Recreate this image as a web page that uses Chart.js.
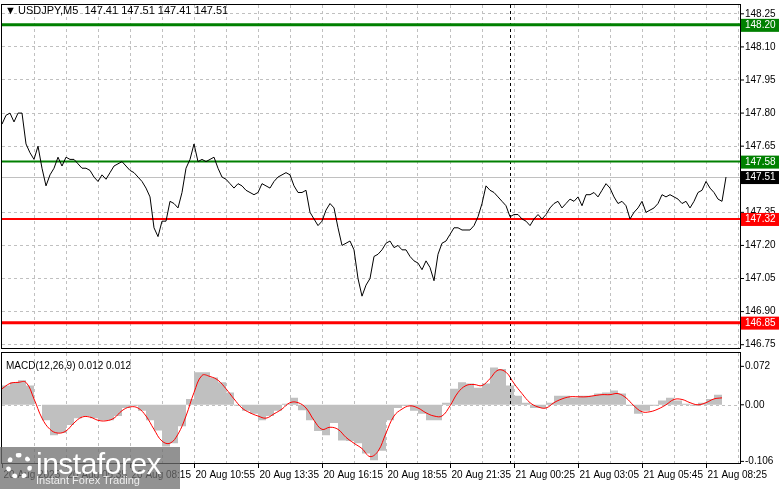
<!DOCTYPE html>
<html>
<head>
<meta charset="utf-8">
<script src="https://cdn.jsdelivr.net/npm/chart.js@4"></script>
<style>
  body { margin: 0; background: #fff; width: 781px; height: 489px; overflow: hidden; font-family: "Liberation Sans", Arial, sans-serif; }
  #main { position: absolute; left: 0; top: 0; }
  #macd { position: absolute; left: 0; top: 349px; }
  .logo { position: absolute; left: 0; top: 447px; width: 180px; height: 42px; background: rgba(110,110,110,0.75); color: #fff; }
  .logo .big { position: absolute; left: 36px; top: 0px; font-size: 30px; letter-spacing: -0.5px; }
  .logo .small { position: absolute; left: 36px; top: 27px; font-size: 11px; color: #eee; }
  .logo .gear { position: absolute; left: 6px; top: 6px; width: 26px; height: 26px; border-radius: 50%; border: 5px dotted #fff; box-sizing: border-box; }
</style>
</head>
<body>
<canvas id="main" width="781" height="350"></canvas>
<canvas id="macd" width="781" height="140"></canvas>
<div class="logo"><div class="gear"></div><div class="big">instaforex</div><div class="small">Instant Forex Trading</div></div>
<script>
// 価格 (M5, 4px おき)
const price = [
  147.75, 147.79, 147.80, 147.76, 147.80, 147.80, 147.66, 147.62, 147.59, 147.65,
  147.55, 147.47, 147.52, 147.55, 147.60, 147.56, 147.60, 147.59, 147.59, 147.57,
  147.55, 147.55, 147.54, 147.51, 147.49, 147.52, 147.50, 147.53, 147.56, 147.57,
  147.58, 147.56, 147.54, 147.53, 147.51, 147.49, 147.46, 147.42, 147.28, 147.24,
  147.31, 147.31, 147.40, 147.39, 147.37, 147.44, 147.55, 147.59, 147.66, 147.58,
  147.59, 147.58, 147.59, 147.60, 147.55, 147.51, 147.50, 147.48, 147.46, 147.48,
  147.47, 147.45, 147.44, 147.43, 147.44, 147.48, 147.47, 147.46, 147.49, 147.51,
  147.52, 147.53, 147.52, 147.47, 147.44, 147.44, 147.45, 147.35, 147.32, 147.29,
  147.31, 147.36, 147.39, 147.37, 147.28, 147.20, 147.21, 147.22, 147.18, 147.05,
  146.97, 147.02, 147.05, 147.15, 147.16, 147.18, 147.21, 147.22, 147.19, 147.20,
  147.18, 147.18, 147.15, 147.13, 147.12, 147.09, 147.13, 147.10, 147.04, 147.16,
  147.21, 147.22, 147.25, 147.28, 147.28, 147.27, 147.27, 147.27, 147.29, 147.33,
  147.39, 147.47, 147.45, 147.44, 147.42, 147.40, 147.38, 147.33, 147.34, 147.34,
  147.32, 147.31, 147.29, 147.32, 147.34, 147.32, 147.34, 147.37, 147.39, 147.40,
  147.37, 147.39, 147.41, 147.40, 147.42, 147.38, 147.43, 147.43, 147.44, 147.42,
  147.45, 147.48, 147.46, 147.42, 147.39, 147.40, 147.38, 147.32, 147.35, 147.37,
  147.40, 147.35, 147.36, 147.37, 147.39, 147.43, 147.42, 147.43, 147.42, 147.41,
  147.39, 147.40, 147.37, 147.40, 147.44, 147.45, 147.49, 147.46, 147.44, 147.41,
  147.40, 147.51
];
// MACD ヒストグラム (8px おき)
const macdHist = [
  0.036, 0.042, 0.046, 0.036, 0.000, -0.029, -0.057, -0.053, -0.038, -0.025,
  -0.021, -0.025, -0.029, -0.029, -0.021, -0.006, -0.002, -0.011, -0.029, -0.048,
  -0.078, -0.072, -0.040, 0.011, 0.061, 0.061, 0.051, 0.042, 0.023, -0.002,
  -0.011, -0.017, -0.029, -0.021, -0.011, 0.002, 0.013, -0.010, -0.029, -0.049,
  -0.057, -0.034, -0.067, -0.068, -0.072, -0.091, -0.104, -0.086, -0.029, -0.006,
  -0.002, -0.011, -0.017, -0.029, -0.029, 0.004, 0.030, 0.042, 0.040, 0.032,
  0.040, 0.070, 0.067, 0.036, 0.017, 0.004, -0.006, -0.006, 0.004, 0.017,
  0.017, 0.013, 0.017, 0.017, 0.021, 0.023, 0.027, 0.021, -0.002, -0.017,
  -0.011, -0.002, 0.008, 0.013, 0.008, 0.002, -0.002, 0.004, 0.011, 0.019,
  0.013
];
// MACD シグナル
const macdSignal = [
  0.030, 0.040, 0.042, 0.042, 0.011, -0.025, -0.046, -0.053, -0.049, -0.034,
  -0.023, -0.023, -0.029, -0.030, -0.025, -0.011, -0.004, -0.006, -0.021, -0.046,
  -0.068, -0.072, -0.055, -0.021, 0.023, 0.055, 0.053, 0.046, 0.030, 0.011,
  -0.006, -0.015, -0.021, -0.025, -0.017, -0.008, 0.004, 0.004, -0.006, -0.029,
  -0.046, -0.042, -0.046, -0.061, -0.072, -0.082, -0.097, -0.087, -0.053, -0.021,
  -0.008, -0.002, -0.006, -0.015, -0.021, -0.021, -0.002, 0.023, 0.036, 0.038,
  0.036, 0.049, 0.065, 0.061, 0.040, 0.021, 0.004, -0.004, -0.006, 0.004,
  0.011, 0.015, 0.015, 0.015, 0.017, 0.019, 0.019, 0.021, 0.013, -0.002,
  -0.013, -0.013, -0.008, 0.000, 0.010, 0.010, 0.004, 0.000, 0.004, 0.011,
  0.013
];
const priceTicks = [148.25, 148.10, 147.95, 147.80, 147.65, 147.35, 147.20, 147.05, 146.90, 146.75];
const timeLabels = ['20 Aug 2025', '20 Aug 05:35', '20 Aug 08:15', '20 Aug 10:55', '20 Aug 13:35', '20 Aug 16:15',
  '20 Aug 18:55', '20 Aug 21:35', '21 Aug 00:25', '21 Aug 03:05', '21 Aug 05:45', '21 Aug 08:25'];
const levels = [
  { value: 148.20, color: '#008000', width: 3 },
  { value: 147.58, color: '#008000', width: 2 },
  { value: 147.32, color: '#ff0000', width: 2 },
  { value: 146.85, color: '#ff0000', width: 3 }
];
const lastPrice = 147.51;
const sessionIndex = 127;   // 縦の点線
const macdTicks = [0.072, 0.00, -0.106];

const FONT = '10px "Liberation Sans", Arial';
const X_MAX = 184.5;
const gridStyle = { color: '#c0c0c0', drawTicks: false, lineWidth: 1 };
const dashBorder = { display: false, dash: [3, 3] };
const xTicks = s => { s.ticks = []; for (let i = 8; i < X_MAX; i += 8) s.ticks.push({ value: i }); };

// 枠・ラベル・水平線を描くプラグイン
const mainDecor = {
  id: 'mainDecor',
  beforeDatasetsDraw(chart) {
    const { ctx, chartArea: a, scales: { x, y } } = chart;
    ctx.save();
    ctx.strokeStyle = '#c0c0c0'; ctx.lineWidth = 1;
    const py = Math.round(y.getPixelForValue(lastPrice)) + 0.5;
    ctx.beginPath(); ctx.moveTo(a.left, py); ctx.lineTo(a.right, py); ctx.stroke();
    ctx.strokeStyle = '#000'; ctx.setLineDash([3, 3]);
    const sx = Math.round(x.getPixelForValue(sessionIndex)) + 0.5;
    ctx.beginPath(); ctx.moveTo(sx, a.top); ctx.lineTo(sx, a.bottom); ctx.stroke();
    ctx.setLineDash([]);
    levels.forEach(l => {
      ctx.strokeStyle = l.color; ctx.lineWidth = l.width;
      const ly = y.getPixelForValue(l.value);
      ctx.beginPath(); ctx.moveTo(a.left, ly); ctx.lineTo(a.right, ly); ctx.stroke();
    });
    ctx.restore();
  },
  afterDraw(chart) {
    const { ctx, chartArea: a, scales: { y } } = chart;
    ctx.save();
    ctx.strokeStyle = '#000'; ctx.lineWidth = 1;
    ctx.strokeRect(a.left - 0.5, a.top - 0.5, a.right - a.left + 1, a.bottom - a.top + 1);
    ctx.font = FONT; ctx.textBaseline = 'middle'; ctx.fillStyle = '#000';
    priceTicks.forEach(t => {
      const ty = y.getPixelForValue(t);
      ctx.beginPath(); ctx.moveTo(a.right, ty); ctx.lineTo(a.right + 4, ty); ctx.stroke();
      ctx.fillText(t.toFixed(2), a.right + 5, ty);
    });
    const boxes = levels.map(l => ({ value: l.value, color: l.color }));
    boxes.push({ value: lastPrice, color: '#000' });
    boxes.forEach(b => {
      const by = y.getPixelForValue(b.value);
      ctx.fillStyle = b.color;
      ctx.fillRect(a.right + 1, by - 6, 38, 13);
      ctx.fillStyle = '#fff';
      ctx.fillText(b.value.toFixed(2), a.right + 5, by + 0.5);
    });
    ctx.fillStyle = '#000';
    ctx.font = '11px "Liberation Sans", Arial';
    ctx.fillText('▼', 5, 11);
    ctx.fillText('USDJPY,M5  147.41 147.51 147.41 147.51', 18, 11);
    ctx.restore();
  }
};

const macdDecor = {
  id: 'macdDecor',
  beforeDatasetsDraw(chart) {
    const { ctx, chartArea: a, scales: { y } } = chart;
    ctx.save();
    ctx.strokeStyle = '#c0c0c0'; ctx.setLineDash([3, 3]);
    const zy = Math.round(y.getPixelForValue(0)) + 0.5;
    ctx.beginPath(); ctx.moveTo(a.left, zy); ctx.lineTo(a.right, zy); ctx.stroke();
    ctx.restore();
  },
  afterDraw(chart) {
    const { ctx, chartArea: a, scales: { x, y } } = chart;
    ctx.save();
    ctx.strokeStyle = '#000'; ctx.lineWidth = 1;
    ctx.strokeRect(a.left - 0.5, a.top - 0.5, a.right - a.left + 1, a.bottom - a.top + 1);
    ctx.setLineDash([3, 3]);
    const sx = Math.round(x.getPixelForValue(sessionIndex)) + 0.5;
    ctx.beginPath(); ctx.moveTo(sx, a.top); ctx.lineTo(sx, a.bottom); ctx.stroke();
    ctx.setLineDash([]);
    ctx.font = FONT; ctx.fillStyle = '#000'; ctx.textBaseline = 'middle';
    macdTicks.forEach(t => {
      const ty = y.getPixelForValue(t);
      ctx.beginPath(); ctx.moveTo(a.right, ty); ctx.lineTo(a.right + 4, ty); ctx.stroke();
      ctx.fillText(t === 0 ? '0.00' : t.toFixed(3), a.right + 5, ty);
    });
    ctx.fillText('MACD(12,26,9) 0.012 0.012', 6, a.top + 13);
    ctx.textBaseline = 'top';
    timeLabels.forEach((lbl, i) => {
      const tx = Math.round(x.getPixelForValue(i * 16)) + 0.5;
      ctx.beginPath(); ctx.moveTo(tx, a.bottom); ctx.lineTo(tx, a.bottom + 5); ctx.stroke();
      ctx.fillText(lbl, tx + 1, a.bottom + 7);
    });
    ctx.restore();
  }
};

new Chart(document.getElementById('main'), {
  type: 'line',
  data: {
    datasets: [{
      data: price.map((v, i) => ({ x: i, y: v })),
      borderColor: '#000', borderWidth: 1, pointRadius: 0, tension: 0
    }]
  },
  options: {
    responsive: false, animation: false,
    layout: { padding: { left: 2, top: 5, right: 41, bottom: 2 } },
    plugins: { legend: { display: false }, tooltip: { enabled: false } },
    scales: {
      x: {
        type: 'linear', min: 0, max: X_MAX,
        ticks: { display: false }, border: dashBorder, grid: gridStyle,
        afterBuildTicks: xTicks
      },
      y: {
        min: 146.735, max: 148.29,
        ticks: { display: false }, border: dashBorder, grid: gridStyle,
        afterBuildTicks: s => { s.ticks = priceTicks.map(v => ({ value: v })); }
      }
    }
  },
  plugins: [mainDecor]
});

new Chart(document.getElementById('macd'), {
  type: 'line',
  data: {
    datasets: [{
      data: macdSignal.map((v, i) => ({ x: i * 2, y: v })),
      borderColor: '#ff0000', borderWidth: 1, pointRadius: 0, tension: 0.4, fill: false
    }, {
      data: macdHist.map((v, i) => ({ x: i * 2, y: v })),
      borderWidth: 0, borderColor: 'rgba(0,0,0,0)', backgroundColor: '#c0c0c0',
      pointRadius: 0, stepped: true, fill: 'origin'
    }]
  },
  options: {
    responsive: false, animation: false,
    layout: { padding: { left: 2, top: 4, right: 41, bottom: 26 } },
    plugins: { legend: { display: false }, tooltip: { enabled: false } },
    scales: {
      x: {
        type: 'linear', min: 0, max: X_MAX,
        ticks: { display: false }, border: dashBorder, grid: gridStyle,
        afterBuildTicks: xTicks
      },
      y: { display: false, min: -0.109, max: 0.097 }
    }
  },
  plugins: [macdDecor]
});
</script>
</body>
</html>
